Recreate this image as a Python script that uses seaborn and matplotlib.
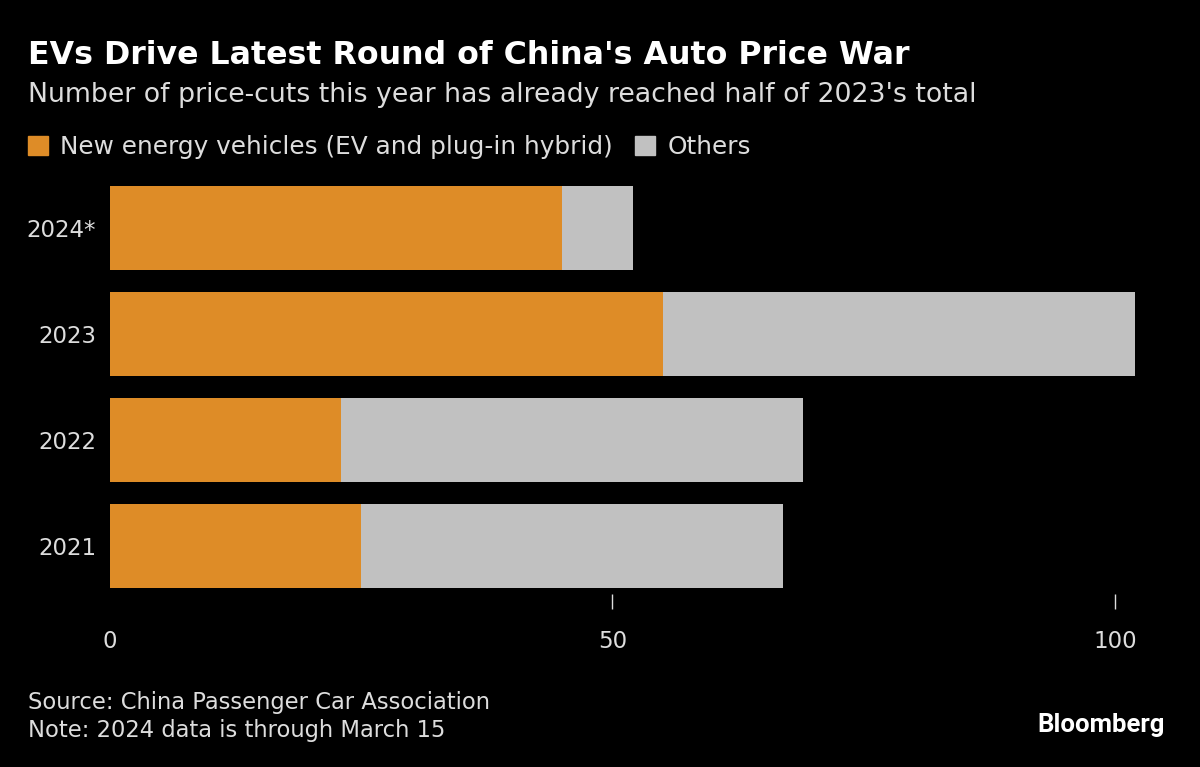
import pandas as pd
import seaborn as sns
import matplotlib.pyplot as plt
from matplotlib.patches import Patch

years = ["2024*", "2023", "2022", "2021"]
nev = [45, 55, 23, 25]
others = [7, 47, 46, 42]

orange = "#DE8C27"
gray = "#C1C1C1"
txt = "#DDDDDD"

df = pd.DataFrame({"year": years, "nev": nev, "others": others})
df["total"] = df["nev"] + df["others"]

sns.set_theme(style="dark")
plt.rcParams["font.family"] = ["DejaVu Sans"]

fig = plt.figure(figsize=(12, 7.67), dpi=100, facecolor="black")
ax = fig.add_axes([110 / 1200, 1 - 594 / 767, 1030 / 1200, 414 / 767])
ax.set_facecolor("black")

sns.barplot(data=df, x="total", y="year", color=gray, orient="h",
            width=0.79, saturation=1, linewidth=0, ax=ax)
sns.barplot(data=df, x="nev", y="year", color=orange, orient="h",
            width=0.79, saturation=1, linewidth=0, ax=ax)

ax.set_xlim(0, 102.5)
ax.set_ylim(3.453, -0.453)
ax.set_xlabel("")
ax.set_ylabel("")
for s in ax.spines.values():
    s.set_visible(False)
ax.grid(False)

ax.set_xticks([0, 50, 100])
ax.tick_params(axis="x", colors=txt, labelsize=16.5, length=11, width=1,
               direction="out", pad=15, bottom=True)
ax.xaxis.get_major_ticks()[0].tick1line.set_visible(False)
ax.tick_params(axis="y", colors=txt, labelsize=16.5, length=0, pad=10)

fig.text(28 / 1200, 1 - 55 / 767, "EVs Drive Latest Round of China's Auto Price War",
         color="white", fontsize=22.8, fontweight="bold", va="center")
fig.text(28 / 1200, 1 - 95 / 767,
         "Number of price-cuts this year has already reached half of 2023's total",
         color=txt, fontsize=19.3, va="center")

handles = [Patch(color=orange, label="New energy vehicles (EV and plug-in hybrid)"),
           Patch(color=gray, label="Others")]
leg = fig.legend(handles=handles, loc="center left",
                 bbox_to_anchor=(28 / 1200, 1 - 147 / 767), ncol=2, frameon=False,
                 fontsize=17.8, handlelength=0.8, handleheight=0.8,
                 handletextpad=0.5, columnspacing=0.9, borderpad=0, borderaxespad=0)
for t in leg.get_texts():
    t.set_color(txt)

fig.text(28 / 1200, 1 - 703 / 767, "Source: China Passenger Car Association",
         color=txt, fontsize=16.3, va="center")
fig.text(28 / 1200, 1 - 730 / 767, "Note: 2024 data is through March 15",
         color=txt, fontsize=16.3, va="center")
fig.text(1165 / 1200, 1 - 725 / 767, "Bloomberg", color="white", fontsize=18.5,
         fontweight="bold", ha="right", va="center", family=["Roboto", "DejaVu Sans"])

fig.savefig("out.png", dpi=100, facecolor="black")
